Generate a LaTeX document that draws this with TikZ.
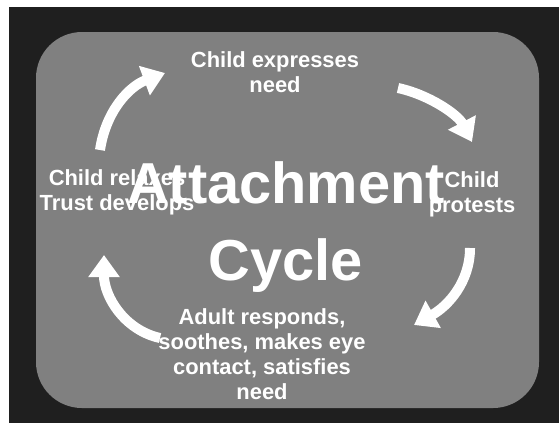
\documentclass[tikz,border=0pt]{standalone}
\usepackage{fontspec}
\setmainfont{Liberation Sans}
\usetikzlibrary{arrows.meta}

\tikzset{
	label/.style={text=white, font=\bfseries\fontsize{22}{25}\selectfont, align=center, inner sep=0pt},
	titletext/.style={text=white, font=\bfseries\fontsize{58}{78}\selectfont, align=center, inner sep=0pt},
	cyclearrow/.style={draw=white, line width=10bp, -{Triangle[width=30bp,length=22bp]}}
}

\begin{document}
\begin{tikzpicture}[x=1bp, y=-1bp]
	\useasboundingbox (0,0) rectangle (559,423);
	\fill[white] (0,0) rectangle (559,423);
	\fill[black!88] (9,7) rectangle (559,423);
	\fill[black!50, rounded corners=46bp] (36,32) rectangle (539,408);

	\node[label] (express) at (275,72) {Child expresses\\need};
	\node[label] (protest) at (472,194) {Child\\protests};
	\node[label] (respond) at (262,354) {Adult responds,\\soothes, makes eye\\contact, satisfies\\need};
	\node[label] (trust) at (117,192) {Child relaxes\\Trust develops};

	\node[titletext] (title) at (286,227) {Attachment\\Cycle};

	\coordinate (a1) at (100,150);
	\coordinate (a2) at (165,73);
	\coordinate (b1) at (398,88);
	\coordinate (b2) at (472,142);
	\coordinate (c1) at (470,248);
	\coordinate (c2) at (414,325);
	\coordinate (d1) at (160,338);
	\coordinate (d2) at (104,255);

	\draw[cyclearrow] (a1) .. controls (106,110) and (130,86) .. (a2);
	\draw[cyclearrow] (b1) .. controls (430,95) and (458,115) .. (b2);
	\draw[cyclearrow] (c1) .. controls (470,282) and (448,306) .. (c2);
	\draw[cyclearrow] (d1) .. controls (124,330) and (104,296) .. (d2);
\end{tikzpicture}
\end{document}
